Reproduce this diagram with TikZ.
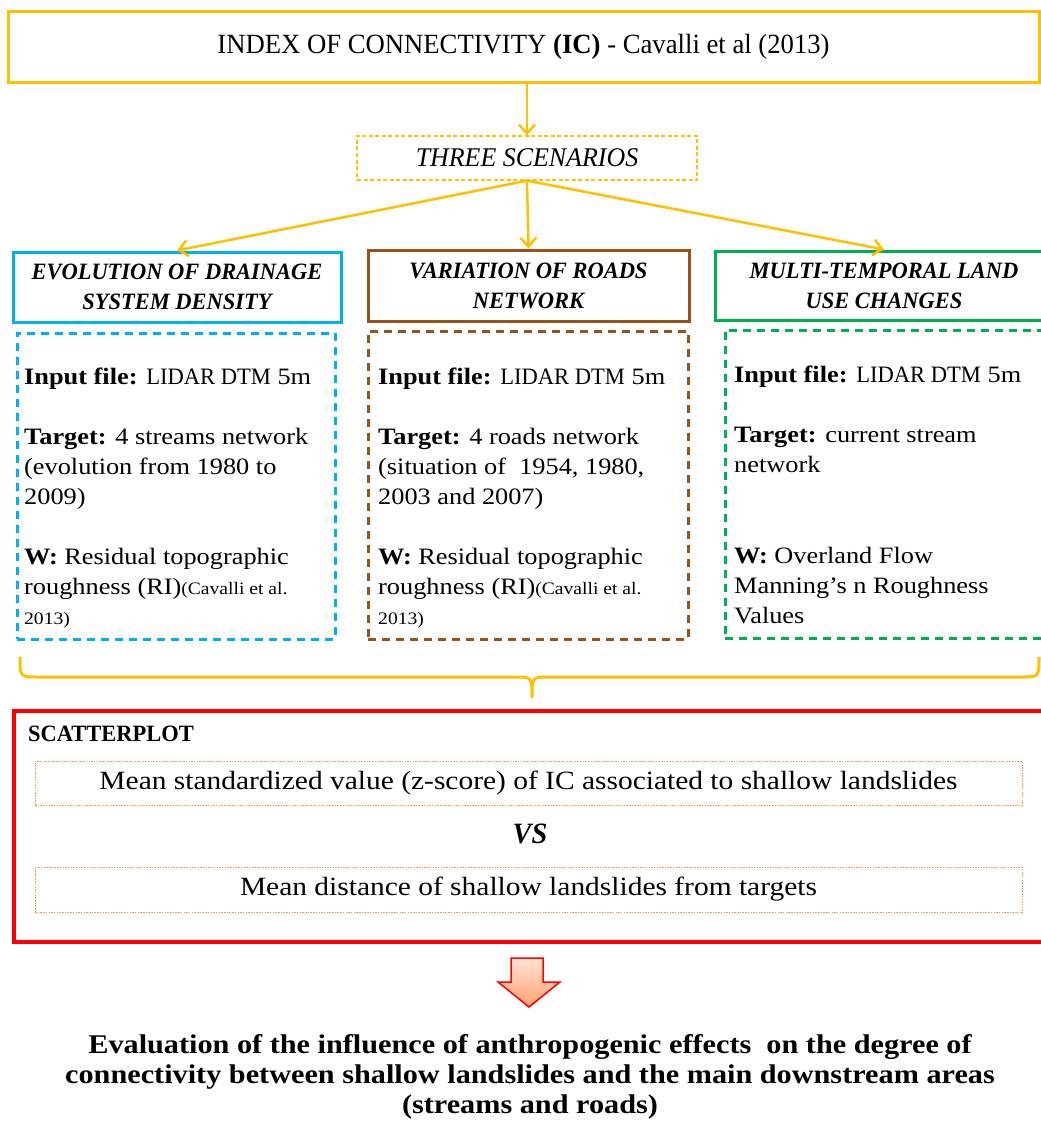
\documentclass[tikz,border=0pt]{standalone}
\usepackage{fontspec}
\setmainfont{Liberation Serif}[FakeStretch=1.12]
\newfontfamily\capfam{Liberation Serif}[FakeStretch=0.96]
\newcommand{\K}[1]{{\capfam #1}}
\usetikzlibrary{arrows.meta}
\definecolor{gold}{RGB}{255,192,0}
\definecolor{cyanb}{RGB}{0,176,240}
\definecolor{brownb}{RGB}{156,82,22}
\definecolor{greenb}{RGB}{0,176,80}
\definecolor{redb}{RGB}{255,0,0}
\definecolor{orangeb}{RGB}{247,150,70}
\definecolor{peach}{RGB}{255,228,212}
\definecolor{peachdark}{RGB}{255,160,110}
\begin{document}
\begin{tikzpicture}[x=1pt,y=-1pt,
  garrow/.style={draw=gold, line width=2.5pt, -{Straight Barb[length=9pt,width=16pt]}},
  solidbox/.style={draw=#1, line width=3pt, inner sep=0pt, align=center},
  dashbox/.style={draw=#1, line width=3pt, dash pattern=on 8pt off 6pt, inner sep=0pt},
  dotbox/.style={draw=orangeb, line width=1pt, dash pattern=on 1.5pt off 1.2pt, inner sep=0pt},
  headfont/.style={font=\capfam\fontsize{23.4}{30}\selectfont\bfseries\itshape},
  bodytext/.style={anchor=base west, inner sep=0pt},
]
\useasboundingbox (0,0) rectangle (1041,1124);

% top box
\node[solidbox=gold, minimum width=1031pt, minimum height=70pt, font=\capfam\fontsize{27.8}{30}\selectfont]
  (top) at (523.5,47) {INDEX OF CONNECTIVITY \textbf{(IC)} - Cavalli et al (2013)};

% three scenarios
\node[draw=gold, line width=1.3pt, dash pattern=on 4pt off 2.5pt, inner sep=0pt,
  minimum width=340pt, minimum height=44pt, font=\capfam\fontsize{27}{30}\selectfont\itshape]
  (three) at (527,158) {THREE SCENARIOS};

% headers
\node[solidbox=cyanb, minimum width=328pt, minimum height=70pt, headfont]
  (h1) at (177,287) {EVOLUTION OF DRAINAGE\\SYSTEM DENSITY};
\node[solidbox=brownb, minimum width=321pt, minimum height=71pt, headfont]
  (h2) at (528.5,285.5) {VARIATION OF ROADS\\NETWORK};
\node[solidbox=greenb, minimum width=338pt, minimum height=69pt, headfont]
  (h3) at (884,285.5) {MULTI-TEMPORAL LAND\\USE CHANGES};

% arrows
\draw[garrow] (three.north |- top.south) -- (three.north);
\draw[garrow] (three.south) -- (h1.north);
\draw[garrow] (three.south) -- (h2.north);
\draw[garrow] (three.south) -- (h3.north);

% dashed boxes
\node[dashbox=cyanb, minimum width=318pt, minimum height=306pt] (d1) at (176,486) {};
\node[dashbox=brownb, minimum width=320pt, minimum height=308pt] (d2) at (528,485) {};
\node[dashbox=greenb, minimum width=335pt, minimum height=308pt] (d3) at (892.5,484) {};

\node[bodytext] (t1) at (24,384) {\parbox[t]{330pt}{\raggedright\fontsize{23.5}{30}\selectfont
  \textbf{Input file:} \K{LIDAR DTM} 5m\\[30pt]
  \textbf{Target:} 4 streams network\\
  (evolution from 1980 to\\
  2009)\\[30pt]
  \textbf{W:} Residual topographic\\
  roughness (RI){\fontsize{17.5}{20}\selectfont(Cavalli et al.}\\
  {\fontsize{17.5}{20}\selectfont 2013)}}};

\node[bodytext] (t2) at (378,384) {\parbox[t]{330pt}{\raggedright\fontsize{23.5}{30}\selectfont
  \textbf{Input file:} \K{LIDAR DTM} 5m\\[30pt]
  \textbf{Target:} 4 roads network\\
  (situation of\ \ 1954, 1980,\\
  2003 and 2007)\\[30pt]
  \textbf{W:} Residual topographic\\
  roughness (RI){\fontsize{17.5}{20}\selectfont(Cavalli et al.}\\
  {\fontsize{17.5}{20}\selectfont 2013)}}};

\node[bodytext] (t3) at (734,382) {\parbox[t]{330pt}{\raggedright\fontsize{23.5}{30}\selectfont
  \textbf{Input file:} \K{LIDAR DTM} 5m\\[30pt]
  \textbf{Target:} current stream\\
  network\\[61pt]
  \textbf{W:} Overland Flow\\
  Manning’s n Roughness\\
  Values}};

% brace
\draw[draw=gold, line width=3pt, line join=round]
  (20,657) .. controls (20,677) and (20,677) .. (38,677) -- (520,677)
  .. controls (532,677) and (532,680) .. (532,697)
  .. controls (532,680) and (532,677) .. (544,677) -- (1021,677)
  .. controls (1039,677) and (1039,677) .. (1039,657);

% scatterplot box
\node[draw=redb, line width=3.5pt, inner sep=0pt, minimum width=1040pt, minimum height=231pt]
  (red) at (534,826.5) {};
\node[bodytext, font=\capfam\fontsize{23.4}{28}\selectfont\bfseries] (sc) at (28,741) {SCATTERPLOT};
\node[dotbox, minimum width=987pt, minimum height=44pt, font=\fontsize{26.3}{28}\selectfont]
  (i1) at (528.5,783) {Mean standardized value (z-score) of IC associated to shallow landslides};
\node[font=\capfam\fontsize{29.5}{32}\selectfont\bfseries\itshape, inner sep=0pt] (vs) at (530,834) {VS};
\node[dotbox, minimum width=987pt, minimum height=45pt, font=\fontsize{26.3}{28}\selectfont]
  (i2) at (528.5,889.5) {Mean distance of shallow landslides from targets};

% block arrow
\path[draw=redb, line width=1.5pt, line join=miter, top color=peach, bottom color=peachdark]
  (511,958) -- (543,958) -- (543,982) -- (560,982) -- (529,1007) -- (498,982) -- (511,982) -- cycle;

% conclusion
\node[anchor=base, inner sep=0pt] (concl) at (530,1053) {\parbox[t]{1040pt}{\centering
  \fontsize{27}{30}\selectfont\bfseries
  Evaluation of the influence of anthropogenic effects\ \ on the degree of\\
  connectivity between shallow landslides and the main downstream areas\\
  (streams and roads)}};
\end{tikzpicture}
\end{document}
